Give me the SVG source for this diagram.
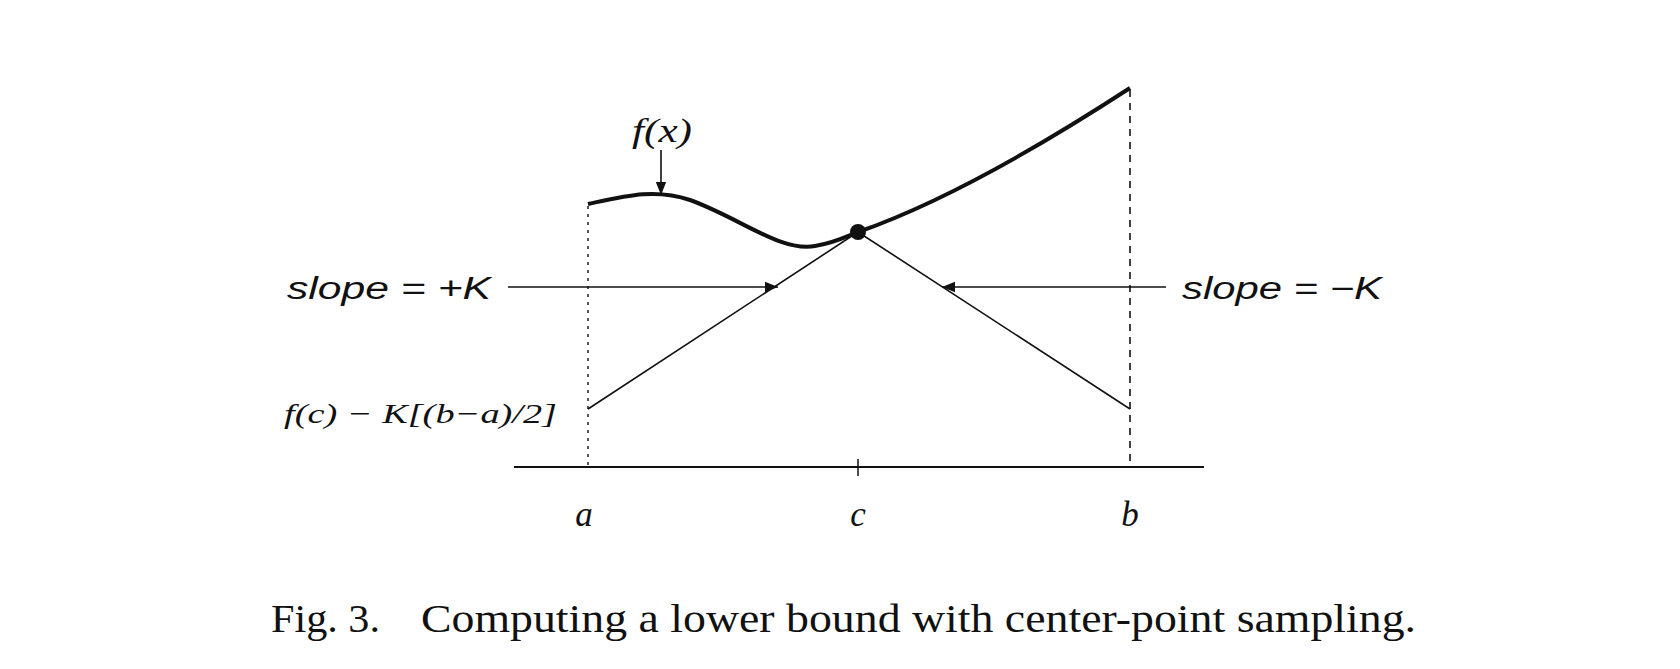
<svg xmlns="http://www.w3.org/2000/svg" width="1680" height="669" viewBox="0 0 1680 669">
<style>
.sans{font-family:"Liberation Sans",Arial,sans-serif;font-style:italic;fill:#111}
.ser{font-family:"Liberation Serif","Times New Roman",serif;font-style:italic;fill:#111}
.cap{font-family:"Liberation Serif","Times New Roman",serif;fill:#111}
.thin{stroke:#111;stroke-width:1.6;fill:none}
</style>
<defs>
<marker id="ah" viewBox="0 0 10 10" refX="10" refY="5" markerWidth="22" markerHeight="13" markerUnits="userSpaceOnUse" orient="auto">
<path d="M0,1 L10,5 L0,9 Z" fill="#111"/>
</marker>
</defs>
<rect width="1680" height="669" fill="#fff"/>
<g id="axes">
<line x1="514" y1="467" x2="1204" y2="467" stroke="#111" stroke-width="2"/>
<line x1="858" y1="459" x2="858" y2="476" stroke="#111" stroke-width="1.5"/>
<line x1="588" y1="206" x2="588" y2="467" stroke="#111" stroke-width="1.4" stroke-dasharray="3,5"/>
<line x1="1130" y1="90" x2="1130" y2="467" stroke="#111" stroke-width="1.6" stroke-dasharray="7,6"/>
</g>
<g id="curve">
<path d="M588,204 C625,196 655,188 690,200 C740,218 780,252 815,246 C835,243 845,237 858,232 C950,200 1050,140 1130,88" fill="none" stroke="#111" stroke-width="4"/>
<circle cx="858" cy="232" r="8" fill="#111"/>
</g>
<g id="bounds">
<line class="thin" x1="588" y1="409" x2="858" y2="232"/>
<line class="thin" x1="858" y1="232" x2="1130" y2="409"/>
</g>
<g id="connectors">
<line class="thin" x1="661" y1="150" x2="661" y2="195" marker-end="url(#ah)"/>
<line class="thin" x1="508" y1="287" x2="778" y2="287" marker-end="url(#ah)"/>
<line class="thin" x1="1166" y1="287" x2="942" y2="287" marker-end="url(#ah)"/>
</g>
<g id="labels">
<text class="ser" x="662" y="142" font-size="33" text-anchor="middle" textLength="60" lengthAdjust="spacingAndGlyphs">f(x)</text>
<text class="sans" x="287" y="299" font-size="31" textLength="204" lengthAdjust="spacingAndGlyphs">slope = +K</text>
<text class="sans" x="1182" y="299" font-size="31" textLength="200" lengthAdjust="spacingAndGlyphs">slope = −K</text>
<text class="ser" x="284" y="423" font-size="28" textLength="273" lengthAdjust="spacingAndGlyphs">f(c) − K[(b−a)/2]</text>
<text class="ser" x="584" y="526" font-size="35" text-anchor="middle">a</text>
<text class="ser" x="858" y="526" font-size="35" text-anchor="middle">c</text>
<text class="ser" x="1130" y="526" font-size="35" text-anchor="middle">b</text>
</g>
<g id="caption">
<text class="cap" x="271" y="632" font-size="40" textLength="109" lengthAdjust="spacingAndGlyphs">Fig. 3.</text>
<text class="cap" x="421" y="632" font-size="40" textLength="995" lengthAdjust="spacingAndGlyphs">Computing a lower bound with center-point sampling.</text>
</g>
</svg>
